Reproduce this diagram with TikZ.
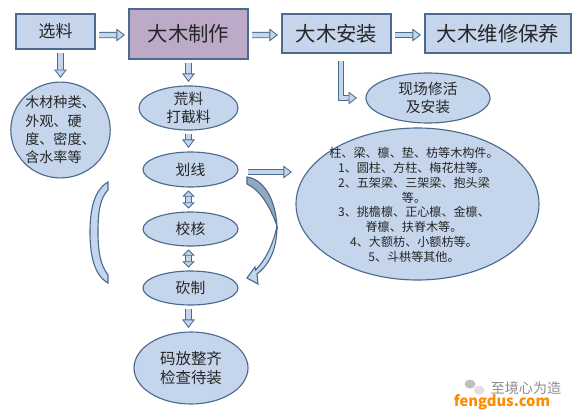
\documentclass[tikz,border=0pt]{standalone}
\usepackage{fontspec}
\setmainfont{Noto Sans CJK SC}
\usepackage{tikz}
\usetikzlibrary{shapes,arrows.meta,positioning,calc}
\definecolor{boxblue}{HTML}{C5D6EC}
\definecolor{boxline}{HTML}{4A6A8E}
\definecolor{boxpurple}{HTML}{BDAAC9}
\definecolor{bandgrey}{HTML}{93A7C0}

\begin{document}
\begin{tikzpicture}[
    x=0.025cm, y=-0.025cm,
    proc/.style={rectangle, draw=boxline, fill=boxblue, line width=0.8pt, inner sep=0pt, text=black!85},
    oval/.style={ellipse, draw=boxline, fill=boxblue, line width=0.8pt, inner sep=0pt, align=center, text=black!85, font=\fontsize{10.5}{12.5}\selectfont},
    flow/.style={draw=boxline, line width=0.6pt, double=boxblue, double distance=3.2pt, shorten >=2.5pt, shorten <=2.5pt,
        -{Triangle[length=6pt, width=9pt, fill=boxblue, color=boxline, line width=0.6pt]}},
    both/.style={flow, shorten >=2pt, shorten <=2pt, {Triangle[length=4.5pt, width=9pt, fill=boxblue, color=boxline, line width=0.6pt]}-{Triangle[length=4.5pt, width=9pt, fill=boxblue, color=boxline, line width=0.6pt]}},
    crescent/.style={draw=boxline, fill=boxblue, line width=0.8pt}
]
    \useasboundingbox (0,0) rectangle (580,414);

    % Top row
    \node[proc, minimum width=79*0.025cm, minimum height=35*0.025cm, font=\fontsize{12}{14}\selectfont] (select) at (55.5,31.5) {选料};
    \node[proc, fill=boxpurple, minimum width=119*0.025cm, minimum height=50*0.025cm, font=\fontsize{14.5}{17}\selectfont] (make) at (188.5,34) {大木制作};
    \node[proc, minimum width=109*0.025cm, minimum height=39*0.025cm, font=\fontsize{14.5}{17}\selectfont] (install) at (336.5,33.5) {大木安装};
    \node[proc, minimum width=146*0.025cm, minimum height=39*0.025cm, font=\fontsize{14.5}{17}\selectfont] (repair) at (498,33.5) {大木维修保养};

    % Ovals
    \node[oval, minimum width=99*0.025cm, minimum height=94*0.025cm, align=left, font=\fontsize{10}{13}\selectfont] (wood) at (60.5,130) {木材种类、\\外观、硬\\度、密度、\\含水率等};
    \node[oval, minimum width=99*0.025cm, minimum height=40*0.025cm] (rough) at (188.5,108) {荒料\\打截料};
    \node[oval, minimum width=95*0.025cm, minimum height=35*0.025cm] (mark) at (190.5,169.5) {划线};
    \node[oval, minimum width=95*0.025cm, minimum height=34*0.025cm] (check) at (190.5,229) {校核};
    \node[oval, minimum width=95*0.025cm, minimum height=34*0.025cm] (cut) at (190.5,288) {砍制};
    \node[oval, minimum width=114*0.025cm, minimum height=72*0.025cm, font=\fontsize{11}{14}\selectfont] (stack) at (191,368) {码放整齐\\检查待装};
    \node[oval, minimum width=124*0.025cm, minimum height=50*0.025cm] (site) at (428,98) {现场修活\\及安装};
    \node[oval, minimum width=243*0.025cm, minimum height=152*0.025cm] (parts) at (417.5,204) {};
    \node[align=center, text=black!85, font=\fontsize{8.6}{10.5}\selectfont] (partstext) at (414,205) {柱、梁、檩、垫、枋等木构件。\\1、圆柱、方柱、梅花柱等。\\2、五架梁、三架梁、抱头梁\\等。\\3、挑檐檩、正心檩、金檩、\\脊檩、扶脊木等。\\4、大额枋、小额枋等。\\5、斗栱等其他。};

    % Arrows
    \draw[flow] ($(select.east)+(0,3.5)$) -- ($(make.west)+(0,1)$);
    \draw[flow] ($(make.east)+(0,1)$) -- ($(install.west)+(0,1.5)$);
    \draw[flow] ($(install.east)+(0,1.5)$) -- ($(repair.west)+(0,1.5)$);
    \draw[flow] (select.south -| wood) -- (wood.north);
    \draw[flow] (make.south) -- (rough.north);
    \draw[flow] (rough.south) -- (mark.north -| rough);
    \draw[both] (mark.south -| rough) -- (check.north -| rough);
    \draw[both] (check.south -| rough) -- (cut.north -| rough);
    \draw[flow] (cut.south -| rough) -- (stack.north -| rough);
    \draw[flow, shorten <=0pt] ($(mark.east)+(9,2.5)$) coordinate (markout) -- (parts.west |- markout);
    \draw[flow, shorten <=5pt, shorten >=6pt] (install.south -| 341,0) -- (341,98) -- (site.west);

    % Curved arrow
    \draw[crescent, fill=bandgrey] (247,177) .. controls (262,179) and (275,196) .. (277,226)
        .. controls (270,206) and (260,190) .. (247,184) -- cycle;
    \draw[crescent] (277,226) .. controls (277,248) and (270,264) .. (257,274)
        -- (258,284) -- (247,278) -- (255,267) -- (255.5,270)
        .. controls (264,262) and (273,246) .. (277,226) -- cycle;

    % Left crescent
    \draw[crescent] (108,182) .. controls (94,190) and (90,210) .. (90,232)
        .. controls (90,255) and (94,275) .. (108,283) -- (108,275)
        .. controls (100,265) and (98,250) .. (98,232)
        .. controls (98,212) and (100,198) .. (108,190) -- cycle;

    % Watermark
    \node[ellipse, fill=black!25, minimum width=11*0.025cm, minimum height=9*0.025cm, inner sep=0pt] (wechatA) at (470,384) {};
    \node[ellipse, fill=black!12, minimum width=11*0.025cm, minimum height=9*0.025cm, inner sep=0pt] (wechatB) at (479,390) {};
    \node[text=black!45, font=\fontsize{10}{12}\selectfont] (wechatname) at (526,388) {至境心为造};
    \node[text=orange!90!yellow, font=\fontsize{10.5}{12}\selectfont\bfseries] (siteurl) at (502,402) {fengdus.com};
\end{tikzpicture}
\end{document}
